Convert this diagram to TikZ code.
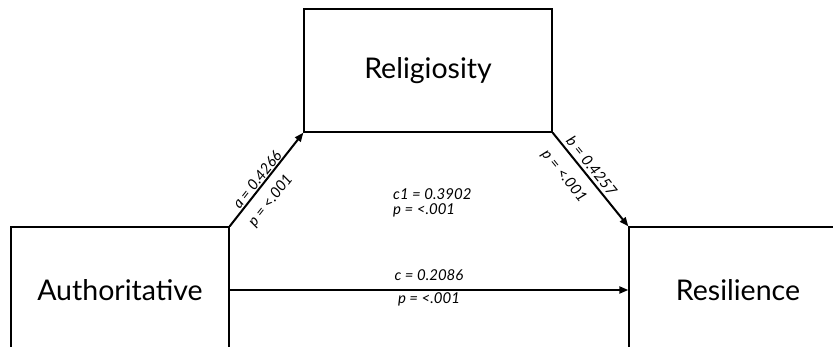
\documentclass[tikz,border=0pt]{standalone}
\usepackage{fontspec}
\setmainfont{Lato}
\usetikzlibrary{arrows.meta}
\begin{document}
\begin{tikzpicture}[x=1pt,y=-1pt,
  box/.style={draw=black,line width=1.3pt,rectangle,inner sep=0pt,font=\fontsize{28.5}{32}\selectfont},
  path/.style={line width=2pt,-{Triangle[length=9pt,width=7pt]}},
  lab/.style={font=\fontsize{15}{17}\selectfont\itshape,inner sep=1pt}]
\useasboundingbox (0,0) rectangle (833,347);
\node[box,minimum width=248pt,minimum height=123pt] (rel) at (428,70.5) {Religiosity};
\node[box,minimum width=218pt,minimum height=126pt] (aut) at (120,290) {Authoritative};
\node[box,minimum width=218pt,minimum height=126pt] (res) at (738,290) {Resilience};
\draw[path] (aut.north east) -- (rel.south west)
  node[lab,pos=0.45,sloped,above] (la) {a = 0.4266}
  node[lab,pos=0.38,sloped,below,yshift=-8pt] (lpa) {p = <.001};
\draw[path] (rel.south east) -- (res.north west)
  node[lab,pos=0.42,sloped,above,yshift=2pt] (lb) {b = 0.4257}
  node[lab,pos=0.34,sloped,below,yshift=-10pt] (lpb) {p = <.001};
\draw[path] (aut.east) -- (res.west)
  node[lab,pos=0.5,above,yshift=7pt] (lc) {c = 0.2086}
  node[lab,pos=0.5,below,yshift=-1pt] (lpc) {p = <.001};
\node[lab,align=left,anchor=north west,inner sep=0pt] (lc1) at (393,188) {c1 = 0.3902\\[-2pt]p = <.001};
\end{tikzpicture}
\end{document}
